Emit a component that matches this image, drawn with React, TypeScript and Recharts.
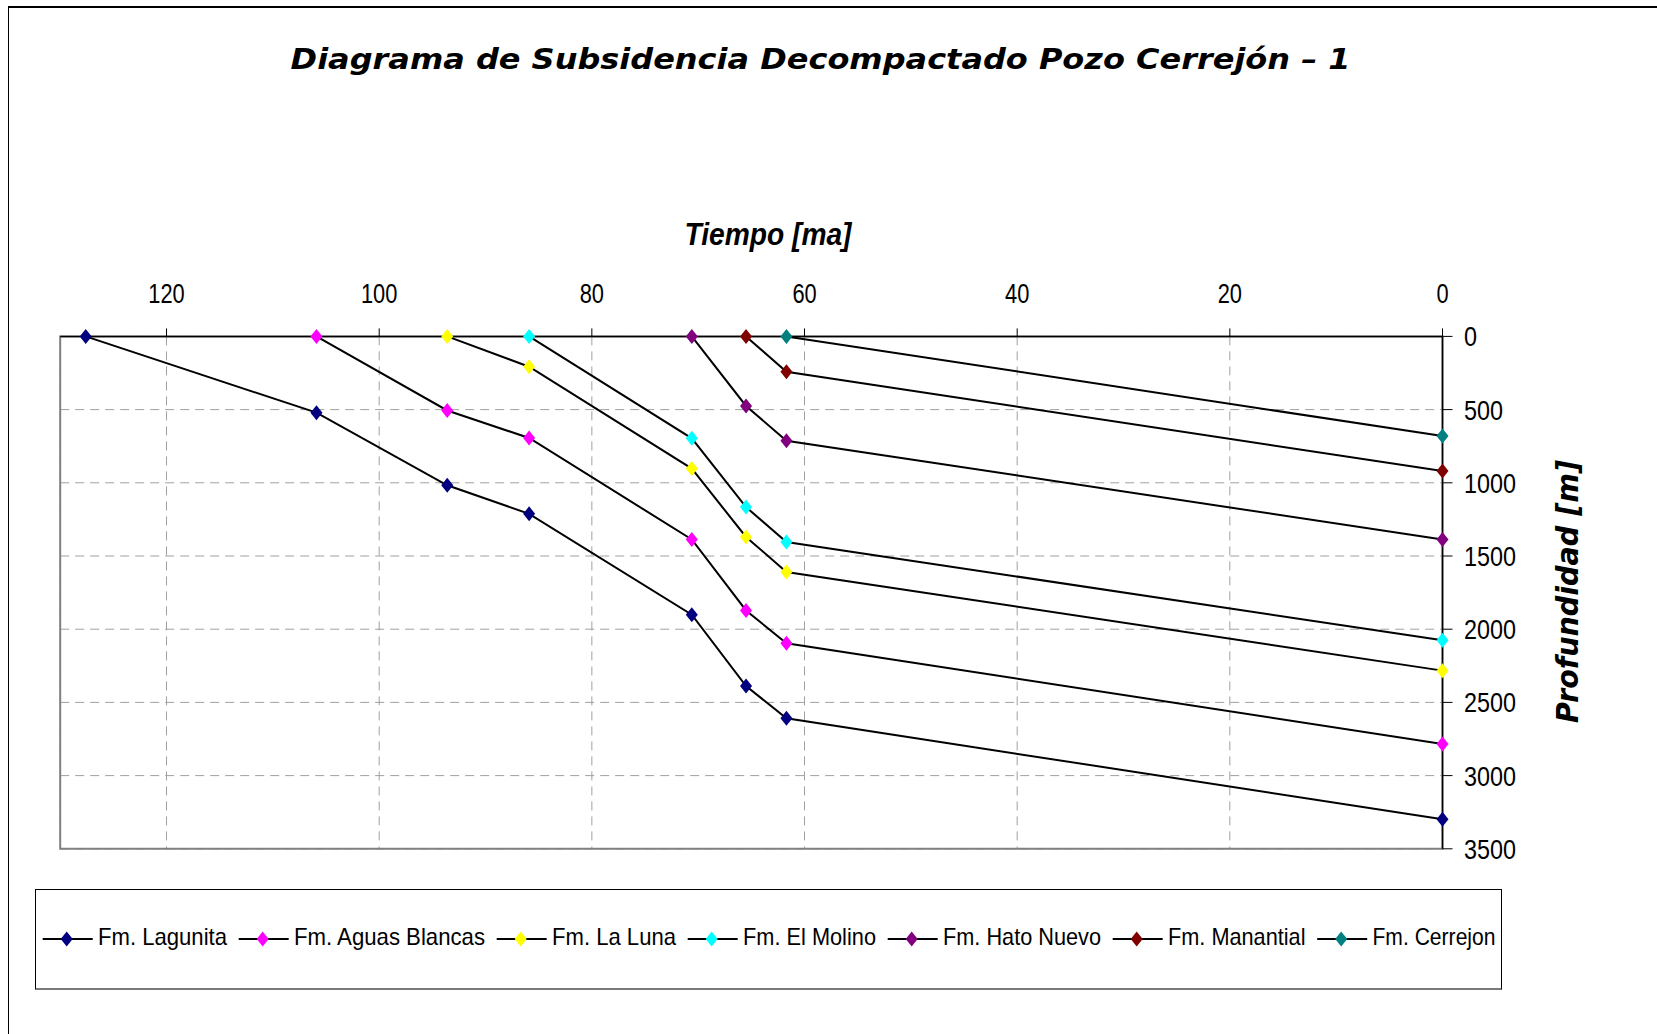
import React from 'react';
import { ScatterChart, Scatter, XAxis, YAxis, CartesianGrid, Legend, ReferenceArea } from 'recharts';

// Ages [Ma] of the horizons (shared time axis)
const tiempos = [127.6, 105.9, 93.6, 85.9, 70.6, 65.5, 61.7, 0];

const seriesNames = [
  'Fm. Lagunita',
  'Fm. Aguas Blancas',
  'Fm. La Luna',
  'Fm. El Molino',
  'Fm. Hato Nuevo',
  'Fm. Manantial',
  'Fm. Cerrejon',
];
const seriesColors = ['#000080', '#FF00FF', '#FFFF00', '#00FFFF', '#800080', '#800000', '#008080'];

// Depths [m], aligned with the last N ages of `tiempos`
const lagunita = [0, 521, 1017, 1212, 1901, 2388, 2609, 3298];
const aguasBlancas = [0, 506, 694, 1387, 1872, 2096, 2784];
const laLuna = [0, 207, 903, 1370, 1609, 2283];
const elMolino = [0, 696, 1166, 1404, 2076];
const hatoNuevo = [0, 475, 713, 1387];
const manantial = [0, 241, 920];
const cerrejon = [0, 681];

const profundidades = [lagunita, aguasBlancas, laLuna, elMolino, hatoNuevo, manantial, cerrejon];

const xTicks = [0, 20, 40, 60, 80, 100, 120];
const yTicks = [0, 500, 1000, 1500, 2000, 2500, 3000, 3500];

// legend label widths (layout style, px)
const legendTextWidths = [129, 191, 124, 133, 158, 137.5, 123];

const series = seriesNames.map((name, i) => {
  const d = profundidades[i];
  const t = tiempos.slice(tiempos.length - d.length);
  return { name, color: seriesColors[i], data: d.map((v, j) => ({ t: t[j], d: v })) };
});

const NARROW = "'Liberation Sans', Arial, sans-serif";

const diamondPath = (cx: number, cy: number, hw: number, hh: number) =>
  `M${cx},${cy - hh} L${cx + hw},${cy} L${cx},${cy + hh} L${cx - hw},${cy} Z`;

const XTick = (props: any) => {
  const { x, y, payload } = props;
  return (
    <g transform={`translate(${x},${y})`}>
      <text x={0} y={-25} textAnchor="middle" transform="scale(0.78,1)" fontFamily={NARROW} fontSize={28} fill="#000">
        {payload.value}
      </text>
    </g>
  );
};

const YTick = (props: any) => {
  const { x, y, payload } = props;
  return (
    <g transform={`translate(${x},${y})`}>
      <text x={11.5 / 0.835} y={0} dy="0.36em" textAnchor="start" transform="scale(0.835,1)" fontFamily={NARROW} fontSize={28} fill="#000">
        {payload.value}
      </text>
    </g>
  );
};

const renderLegend = () => {
  let x = 6.7;
  const items = series.map((s, i) => {
    const w = legendTextWidths[i];
    const g = (
      <g key={s.name} transform={`translate(${x},0)`}>
        <line x1={0} y1={49} x2={50} y2={49} stroke="#000" strokeWidth={2} />
        <path d={diamondPath(24, 49, 6, 7.5)} fill={s.color} />
        <text x={55.3} y={55} textLength={w} lengthAdjust="spacingAndGlyphs" fontFamily={NARROW} fontSize={24} fill="#000">
          {s.name}
        </text>
      </g>
    );
    x += 55.3 + w + 11.7;
    return g;
  });
  return (
    <div style={{ width: 1467, height: 101, boxSizing: 'border-box', border: '1px solid #000', borderBottom: '2px solid #7a7a7a', background: '#fff' }}>
      <svg width={1465} height={98} style={{ display: 'block', overflow: 'visible' }}>
        {items}
      </svg>
    </div>
  );
};

export default function App() {
  return (
    <div style={{ position: 'fixed', left: 0, top: 0, width: 1657, height: 1034, overflow: 'hidden', background: '#fff' }}>
      <div style={{ position: 'absolute', left: 8, top: 6, width: 1700, height: 1100, borderTop: '2px solid #000', borderLeft: '1.5px solid #000' }} />
      <svg width={1657} height={1034} style={{ position: 'absolute', left: 0, top: 0 }}>
        <text x={820.6} y={69} textAnchor="middle" fontFamily="'DejaVu Sans', Verdana, sans-serif" fontWeight="bold" fontStyle="italic" fontSize={29} textLength={1060} lengthAdjust="spacingAndGlyphs" fill="#000">
          Diagrama de Subsidencia Decompactado Pozo Cerrejón – 1
        </text>
        <text x={768} y={245} textAnchor="middle" fontFamily={NARROW} fontWeight="bold" fontStyle="italic" fontSize={32} textLength={167} lengthAdjust="spacingAndGlyphs" fill="#000">
          Tiempo [ma]
        </text>
        <text x={1578} y={591.5} transform="rotate(-90 1578 591.5)" textAnchor="middle" fontFamily="'DejaVu Sans', Verdana, sans-serif" fontWeight="bold" fontStyle="italic" fontSize={30} textLength={263} lengthAdjust="spacingAndGlyphs" fill="#000">
          Profundidad [m]
        </text>
      </svg>
      <div style={{ position: 'absolute', left: 0, top: 0 }}>
        <ScatterChart width={1657} height={1034} margin={{ top: 296.4, left: 60.2, right: 154.5, bottom: 185.2 }}>
          <CartesianGrid strokeDasharray="9 6" stroke="#a0a0a0" strokeWidth={1} />
          <ReferenceArea x1={130} x2={0} y1={0} y2={3500} fill="none" stroke="#808080" strokeWidth={2} ifOverflow="visible" />
          <XAxis
            dataKey="t"
            type="number"
            orientation="top"
            domain={[0, 130]}
            reversed
            ticks={xTicks}
            interval={0}
            height={40}
            tickSize={8}
            tickMargin={0}
            axisLine={{ stroke: '#000', strokeWidth: 1.5 }}
            tickLine={{ stroke: '#000' }}
            tick={<XTick />}
          />
          <YAxis
            dataKey="d"
            type="number"
            orientation="right"
            domain={[0, 3500]}
            reversed
            ticks={yTicks}
            interval={0}
            width={60}
            tickSize={10}
            tickMargin={0}
            axisLine={{ stroke: '#000', strokeWidth: 1.5 }}
            tickLine={{ stroke: '#000' }}
            tick={<YTick />}
          />
          {series.map((s) => (
            <Scatter
              key={s.name}
              name={s.name}
              data={s.data}
              fill={s.color}
              line={{ stroke: '#000', strokeWidth: 2 }}
              lineType="joint"
              isAnimationActive={false}
              shape={(p: any) => <path d={diamondPath(p.cx, p.cy, 6, 7.5)} fill={s.color} />}
            />
          ))}
          <Legend
            verticalAlign="middle"
            align="center"
            layout="horizontal"
            content={renderLegend}
            wrapperStyle={{ position: 'absolute', left: 35, top: 889, width: 1467, height: 101, margin: 0 }}
          />
        </ScatterChart>
      </div>
    </div>
  );
}
